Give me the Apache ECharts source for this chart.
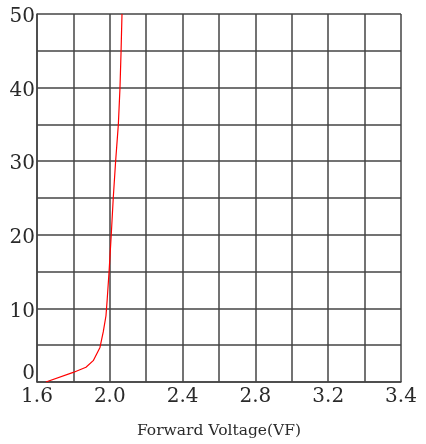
<!DOCTYPE html>
<html>
<head>
    <meta charset="utf-8">
    <title>Forward Voltage</title>
    <script src="https://cdn.jsdelivr.net/npm/echarts@6/dist/echarts.min.js"></script>
</head>
<body style="margin:0">
    <div id="main" style="width: 426px;height: 444px;"></div>
    <script type="text/javascript">
        // curve points
        var vf = [1.649, 1.799, 1.869, 1.909, 1.946, 1.964, 1.979, 1.986, 1.996, 2.008, 2.019, 2.032, 2.047, 2.056, 2.062, 2.067];
        var current = [0, 1.3, 2.0, 2.9, 4.7, 6.8, 9.0, 11.3, 15, 20, 25, 30, 35, 40, 45, 50];
        // the grid has 10 columns but the last one is labelled 3.4
        var xTickLabels = ['1.6', '', '2.0', '', '2.4', '', '2.8', '', '3.2', '', '3.4'];
        var yTickLabels = ['0', '', '10', '', '20', '', '30', '', '40', '', '50'];

        var points = [];
        for (var i = 0; i < vf.length; i++) {
            points.push([vf[i], current[i]]);
        }

        var lineColor = '#444';
        var textColor = '#2a2a2a';
        var font = 'DejaVu Serif';

        var myChart = echarts.init(document.getElementById('main'));
        var option = {
            animation: false,
            grid: { left: 37, top: 14, right: 25, bottom: 61 },
            xAxis: {
                type: 'value',
                min: 1.6,
                max: 3.6,
                interval: 0.2,
                name: 'Forward Voltage(VF)',
                nameLocation: 'middle',
                nameGap: 41,
                nameTextStyle: { fontFamily: font, fontSize: 15.5, color: textColor },
                axisLine: { show: true, lineStyle: { color: lineColor, width: 1.5 } },
                axisTick: { show: false },
                axisLabel: {
                    fontFamily: font, fontSize: 20, color: textColor, margin: 5,
                    showMinLabel: true, showMaxLabel: true,
                    formatter: function (v) {
                        return xTickLabels[Math.round((v - 1.6) / 0.2)] || '';
                    }
                },
                splitLine: { show: true, lineStyle: { color: lineColor, width: 1.5 } }
            },
            yAxis: {
                type: 'value',
                min: 0,
                max: 50,
                interval: 5,
                axisLine: { show: true, lineStyle: { color: lineColor, width: 1.5 } },
                axisTick: { show: false },
                axisLabel: {
                    fontFamily: font, fontSize: 20, color: textColor, margin: 2,
                    padding: [6, 0, 0, 0],
                    formatter: function (v) {
                        var t = yTickLabels[Math.round(v / 5)] || '';
                        return v === 0 ? '{z|' + t + '}' : t;
                    },
                    rich: {
                        z: { fontFamily: font, fontSize: 20, color: textColor, padding: [0, 0, 22, 0] }
                    }
                },
                splitLine: { show: true, lineStyle: { color: lineColor, width: 1.5 } }
            },
            series: [{
                type: 'line',
                data: points,
                showSymbol: false,
                lineStyle: { color: '#ff0000', width: 1.2 }
            }]
        };
        myChart.setOption(option);
    </script>
</body>
</html>
